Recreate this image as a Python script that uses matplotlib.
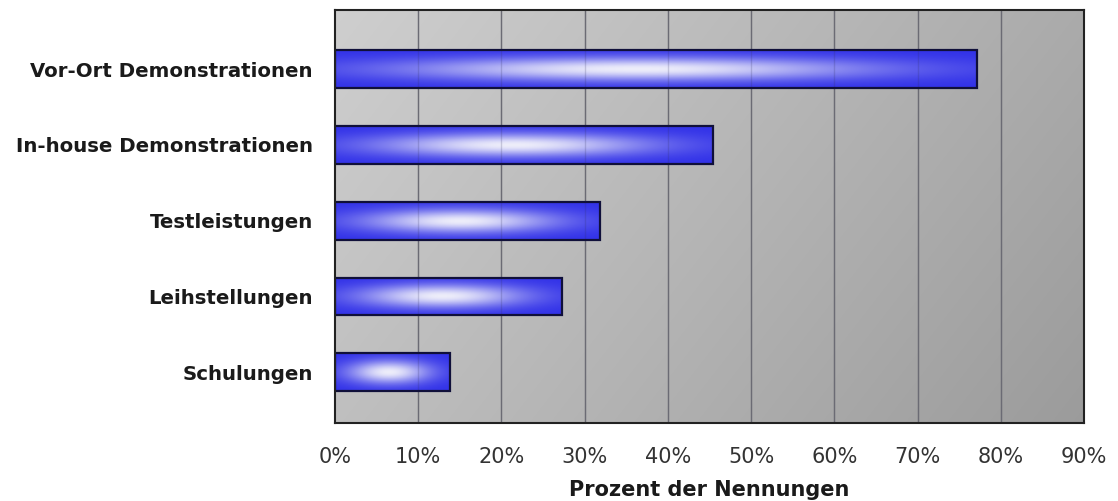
import numpy as np
import matplotlib
matplotlib.use("Agg")
import matplotlib.pyplot as plt
from matplotlib.patches import Rectangle

categories = ["Vor-Ort Demonstrationen", "In-house Demonstrationen", "Testleistungen",
              "Leihstellungen", "Schulungen"]
values = [77.2, 45.4, 31.9, 27.3, 13.8]
xticks = [0, 10, 20, 30, 40, 50, 60, 70, 80, 90]
xticklabels = [f"{t}%" for t in xticks]
xlabel = "Prozent der Nennungen"

FONT = "DejaVu Sans"

fig = plt.figure(figsize=(11.18, 5.01), dpi=100)
ax = fig.add_axes([335/1118, 78/501, (1084-335)/1118, (423-10)/501])

# background gradient (light top-left -> darker bottom-right)
n = 200
gx, gy = np.meshgrid(np.linspace(0, 1, n), np.linspace(0, 1, n))
g = 0.81 - 0.14 * gx - 0.06 * gy
bg = np.dstack([g, g, g])
ax.imshow(bg, extent=(0, 1, 0, 1), transform=ax.transAxes, aspect="auto",
          zorder=0, interpolation="bilinear")

ax.set_xlim(0, 90)
ax.set_ylim(4.67, -0.78)

for t in xticks[1:-1]:
    ax.axvline(t, color="#7a7a7a", lw=1.0, zorder=1)
    ax.axvline(t, color="#303060", lw=1.0, alpha=0.2, zorder=2.5)

blue = np.array([0.19, 0.19, 0.91])
white = np.array([0.93, 0.93, 0.98])
h = 0.5
for i, v in enumerate(values):
    W, H = 400, 60
    xx, yy = np.meshgrid(np.linspace(0, 1, W), np.linspace(-1, 1, H))
    dx = (xx - 0.47) / 0.36
    dy = yy / 0.62
    w = np.exp(-(dx**2 + dy**2))
    img = blue[None, None, :] * (1 - w[..., None]) + white[None, None, :] * w[..., None]
    ax.imshow(img, extent=(0, v, i + h/2, i - h/2), aspect="auto", zorder=2,
              interpolation="bilinear")
    ax.add_patch(Rectangle((0, i - h/2), v, h, fill=False, edgecolor="#10103a",
                           lw=1.6, zorder=3))

ax.set_xlim(0, 90)
ax.set_ylim(4.67, -0.78)
ax.set_aspect("auto")

ax.set_yticks(range(len(categories)))
ax.set_yticklabels(categories, fontsize=14.2, fontweight="bold", family=FONT, color="#1a1a1a")
ax.set_xticks(xticks)
ax.set_xticklabels(xticklabels, fontsize=15, family=FONT, color="#333333")
ax.tick_params(axis="both", length=0)
ax.tick_params(axis="y", pad=16)
ax.tick_params(axis="x", pad=17)
ax.set_xlabel(xlabel, fontsize=15, fontweight="bold", family=FONT, color="#1a1a1a", labelpad=10)

for s in ax.spines.values():
    s.set_color("#222222")
    s.set_linewidth(1.5)
    s.set_zorder(5)

fig.savefig("out.png", dpi=100, facecolor="white")
